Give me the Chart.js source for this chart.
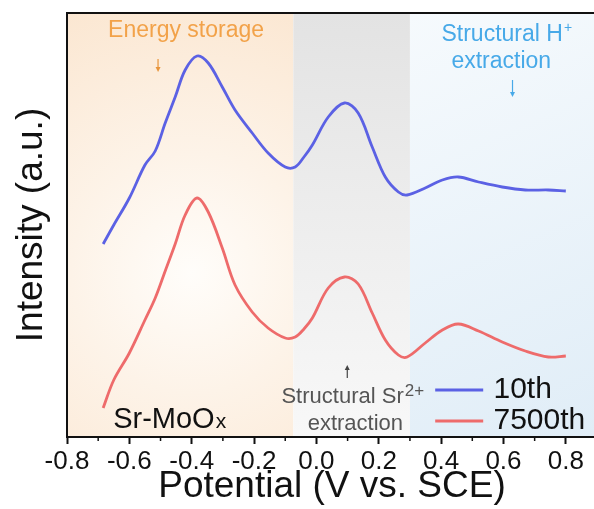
<!DOCTYPE html>
<html>
<head>
<meta charset="utf-8">
<title>Sr-MoOx dQ/dV</title>
<script src="https://cdn.jsdelivr.net/npm/chart.js@4.4.1/dist/chart.umd.min.js"></script>
<style>
  html, body { margin: 0; padding: 0; background: #fff; overflow: hidden; }
  #wrap { width: 594px; height: 509px; overflow: hidden; }
</style>
</head>
<body>
<div id="wrap"><canvas id="dqdv" width="597" height="509"></canvas></div>
<script>
// potential (V vs. SCE) and intensity (a.u.) of both cycles
const potential = [-0.684, -0.65, -0.60, -0.55, -0.517, -0.485, -0.453, -0.421, -0.383, -0.347,
                   -0.302, -0.261, -0.206, -0.155, -0.10, -0.068, -0.04, -0.013, 0.038, 0.09,
                   0.134, 0.179, 0.221, 0.263, 0.291, 0.349, 0.404, 0.455, 0.52, 0.596,
                   0.67, 0.744, 0.80];
const cycle10 = [1.93, 2.12, 2.39, 2.72, 2.86, 3.14, 3.40, 3.67, 3.81, 3.74,
                 3.50, 3.27, 3.04, 2.84, 2.70, 2.70, 2.80, 2.92, 3.20, 3.34,
                 3.24, 2.90, 2.60, 2.45, 2.42, 2.49, 2.57, 2.60, 2.55, 2.50,
                 2.47, 2.47, 2.46];
const cycle7500 = [0.29, 0.57, 0.84, 1.17, 1.39, 1.66, 1.93, 2.22, 2.39, 2.25,
                   1.89, 1.52, 1.25, 1.09, 0.99, 1.00, 1.08, 1.19, 1.49, 1.60,
                   1.53, 1.24, 0.97, 0.82, 0.80, 0.94, 1.07, 1.13, 1.06, 0.95,
                   0.86, 0.80, 0.81];
const seriesNames = ['10th', '7500th'];
const seriesColors = ['#5b61e4', '#ee6b6b'];
const xTicks = [-0.8, -0.6, -0.4, -0.2, 0.0, 0.2, 0.4, 0.6, 0.8];
// shaded regions: energy storage | Sr2+ extraction | H+ extraction
const regionEdges = [-0.8, -0.074, 0.30, 0.9];

const FONT = "'Liberation Sans', Arial, sans-serif";

function toPoints(ys) {
    return potential.map((x, i) => ({ x: x, y: ys[i] }));
}

const shading = {
    id: 'shading',
    beforeDraw(chart) {
        const { ctx, chartArea: a, scales: { x } } = chart;
        const x0 = x.getPixelForValue(regionEdges[0]);
        const x1 = x.getPixelForValue(regionEdges[1]);
        const x2 = x.getPixelForValue(regionEdges[2]);
        const x3 = x.getPixelForValue(regionEdges[3]);
        ctx.save();

        // warm glow around the main peak
        const cx = x.getPixelForValue(-0.40);
        const orange = ctx.createRadialGradient(cx, a.top + 260, 0, cx, a.top + 260, 300);
        orange.addColorStop(0, '#fffdfa');
        orange.addColorStop(0.4, '#fdf3e8');
        orange.addColorStop(1, '#fbe6d0');
        ctx.fillStyle = orange;
        ctx.fillRect(x0, a.top, x1 - x0, a.bottom - a.top);

        const grey = ctx.createLinearGradient(0, a.top, 0, a.bottom);
        grey.addColorStop(0, '#e3e3e3');
        grey.addColorStop(1, '#f8f8f8');
        ctx.fillStyle = grey;
        ctx.fillRect(x1, a.top, x2 - x1, a.bottom - a.top);

        const blue = ctx.createLinearGradient(x2, a.top, x3, a.bottom);
        blue.addColorStop(0, '#f6fafd');
        blue.addColorStop(1, '#e0edf7');
        ctx.fillStyle = blue;
        ctx.fillRect(x2, a.top, x3 - x2, a.bottom - a.top);
        ctx.restore();
    }
};

function arrow(ctx, x, yFrom, yTo, color) {
    const dir = yTo > yFrom ? 1 : -1;
    ctx.strokeStyle = color;
    ctx.fillStyle = color;
    ctx.lineWidth = 1.2;
    ctx.beginPath();
    ctx.moveTo(x, yFrom);
    ctx.lineTo(x, yTo - dir * 3);
    ctx.stroke();
    ctx.beginPath();
    ctx.moveTo(x, yTo);
    ctx.lineTo(x - 2.5, yTo - dir * 5);
    ctx.lineTo(x + 2.5, yTo - dir * 5);
    ctx.closePath();
    ctx.fill();
}

// text with a raised suffix, centred on cx
function supText(ctx, main, sup, cx, y, size, supSize, rise) {
    ctx.font = size + 'px ' + FONT;
    const w1 = ctx.measureText(main).width;
    ctx.font = supSize + 'px ' + FONT;
    const w2 = ctx.measureText(sup).width;
    const left = cx - (w1 + w2) / 2;
    ctx.textAlign = 'left';
    ctx.font = size + 'px ' + FONT;
    ctx.fillText(main, left, y);
    ctx.font = supSize + 'px ' + FONT;
    ctx.fillText(sup, left + w1 + 1, y - rise);
}

const notes = {
    id: 'notes',
    afterDraw(chart) {
        const { ctx, chartArea: a, scales: { x } } = chart;
        ctx.save();
        ctx.textBaseline = 'alphabetic';

        // frame top edge
        ctx.strokeStyle = '#111';
        ctx.lineWidth = 2;
        ctx.beginPath();
        ctx.moveTo(a.left, a.top);
        ctx.lineTo(a.right, a.top);
        ctx.stroke();

        // minor ticks halfway between labelled ones
        ctx.lineWidth = 1.5;
        for (let i = 0; i < xTicks.length - 1; i++) {
            const px = x.getPixelForValue((xTicks[i] + xTicks[i + 1]) / 2);
            ctx.beginPath();
            ctx.moveTo(px, a.bottom);
            ctx.lineTo(px, a.bottom + 4);
            ctx.stroke();
        }

        // region labels
        ctx.fillStyle = '#f2a249';
        ctx.font = '23px ' + FONT;
        ctx.textAlign = 'center';
        ctx.fillText('Energy storage', x.getPixelForValue(-0.418), a.top + 24);
        arrow(ctx, x.getPixelForValue(-0.508), a.top + 46, a.top + 59, '#e8953c');

        ctx.fillStyle = '#47a9e8';
        supText(ctx, 'Structural H', '+', x.getPixelForValue(0.609), a.top + 28, 23, 14, 9);
        ctx.textAlign = 'center';
        ctx.font = '23px ' + FONT;
        ctx.fillText('extraction', x.getPixelForValue(0.593), a.top + 55);
        arrow(ctx, x.getPixelForValue(0.629), a.top + 67, a.top + 84, '#47a9e8');

        ctx.fillStyle = '#555';
        supText(ctx, 'Structural Sr', '2+', x.getPixelForValue(0.115), a.bottom - 34, 22, 17, 7);
        ctx.textAlign = 'center';
        ctx.font = '22px ' + FONT;
        ctx.fillText('extraction', x.getPixelForValue(0.125), a.bottom - 7);
        arrow(ctx, x.getPixelForValue(0.099), a.bottom - 59, a.bottom - 72, '#444');

        // sample name
        ctx.fillStyle = '#111';
        ctx.textAlign = 'left';
        ctx.font = '29px ' + FONT;
        const sx = x.getPixelForValue(-0.652);
        ctx.fillText('Sr-MoO', sx, a.bottom - 9);
        const sw = ctx.measureText('Sr-MoO').width;
        ctx.font = '21px ' + FONT;
        ctx.fillText('x', sx + sw + 1, a.bottom - 9);

        // legend
        const lx0 = x.getPixelForValue(0.381);
        const lx1 = x.getPixelForValue(0.535);
        const tx = x.getPixelForValue(0.568);
        chart.data.datasets.forEach((ds, i) => {
            const ly = a.bottom - 47 + i * 31;
            ctx.strokeStyle = ds.borderColor;
            ctx.lineWidth = 3;
            ctx.beginPath();
            ctx.moveTo(lx0, ly);
            ctx.lineTo(lx1, ly);
            ctx.stroke();
            ctx.fillStyle = '#111';
            ctx.font = '30px ' + FONT;
            ctx.fillText(ds.label, tx, ly + 8);
        });
        ctx.restore();
    }
};

document.addEventListener('DOMContentLoaded', function() {
    const ctx = document.getElementById('dqdv').getContext('2d');
    new Chart(ctx, {
        type: 'line',
        data: {
            datasets: [
                { label: seriesNames[0], data: toPoints(cycle10), borderColor: seriesColors[0] },
                { label: seriesNames[1], data: toPoints(cycle7500), borderColor: seriesColors[1] }
            ]
        },
        options: {
            responsive: false,
            animation: false,
            devicePixelRatio: 1,
            layout: { padding: { top: 13, right: 0, left: 0, bottom: 0 } },
            elements: {
                line: { borderWidth: 2.8, tension: 0.35, fill: false },
                point: { radius: 0, hoverRadius: 0 }
            },
            plugins: {
                legend: { display: false },
                tooltip: { enabled: false }
            },
            scales: {
                x: {
                    type: 'linear',
                    min: -0.8,
                    max: 0.9,
                    afterFit(scale) { scale.height = 72; },
                    afterBuildTicks(scale) { scale.ticks = xTicks.map(v => ({ value: v })); },
                    grid: { drawOnChartArea: false, drawTicks: true, tickLength: 7, tickWidth: 2, tickColor: '#111' },
                    border: { display: true, color: '#111', width: 2 },
                    ticks: {
                        autoSkip: false,
                        maxRotation: 0,
                        padding: 2,
                        color: '#111',
                        font: { family: FONT, size: 26 },
                        callback: v => v.toFixed(1)
                    },
                    title: {
                        display: true,
                        text: 'Potential (V vs. SCE)',
                        color: '#111',
                        font: { family: FONT, size: 37 },
                        padding: { top: 0, bottom: 0 }
                    }
                },
                y: {
                    min: 0,
                    max: 4.24,
                    afterFit(scale) { scale.width = 67; },
                    grid: { display: false },
                    border: { display: true, color: '#111', width: 2 },
                    ticks: { display: false },
                    title: {
                        display: true,
                        text: 'Intensity (a.u.)',
                        color: '#111',
                        font: { family: FONT, size: 37 },
                        padding: { top: 10, bottom: 0 }
                    }
                }
            }
        },
        plugins: [shading, notes]
    });
});
</script>
</body>
</html>
